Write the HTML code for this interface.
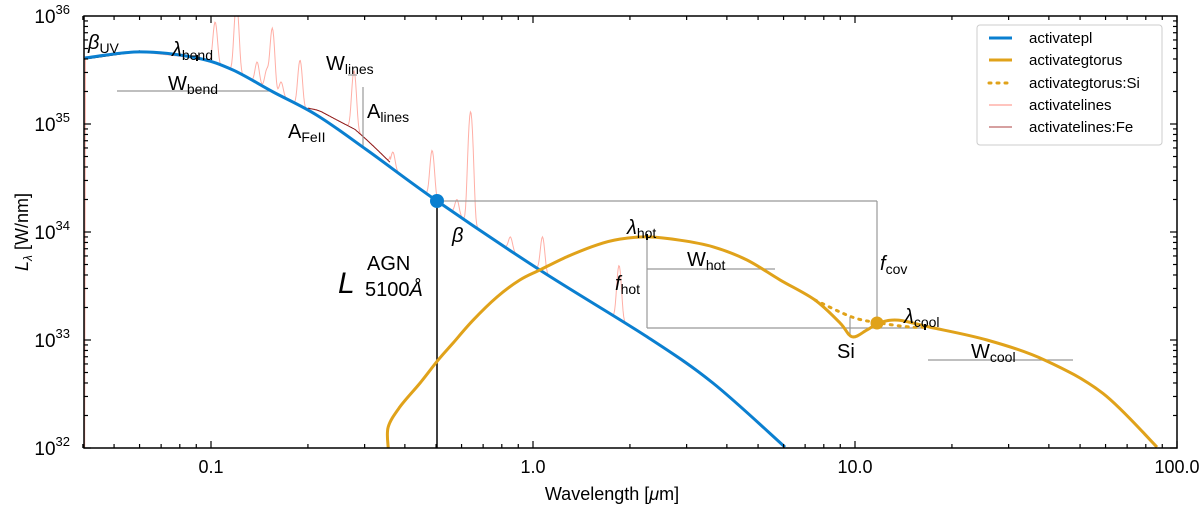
<!DOCTYPE html>
<html><head><meta charset="utf-8"><style>
body{margin:0;background:#fff;}
svg{display:block;font-family:"Liberation Sans",sans-serif;}
</style></head><body>
<svg id="chart" width="1200" height="508" viewBox="0 0 1200 508"></svg>
<script>
const blueLam=[0.0406,0.0602,0.0905,0.117,0.156,0.213,0.305,0.503,1.05,2.26,3.62,6.06];
const blueL=[4.08e35,4.65e35,4.08e35,3.16e35,1.98e35,1.21e35,5.74e34,1.94e34,4.45e33,1.07e33,4.0e32,1.02e32];
const torLam=[0.355,0.355,0.386,0.446,0.507,0.565,0.652,0.773,0.911,1.05,1.275,1.58,1.86,2.26,2.86,3.62,4.62,5.85,7.5,8.98,9.8,10.9,11.9,13.6,17.0,25.7,38.9,58.9,86.7];
const torL=[1.0e32,1.56e32,2.4e32,4.0e32,6.5e32,9.4e32,1.53e33,2.5e33,3.6e33,4.45e33,5.9e33,7.6e33,8.6e33,9.0e33,8.4e33,7.3e33,5.5e33,3.6e33,2.35e33,1.44e33,1.07e33,1.24e33,1.44e33,1.53e33,1.32e33,1.0e33,6.5e32,3.2e32,1.02e32];
const siLam=[7.5,9.8,11.9,14.8,17.0];
const siL=[2.35e33,1.63e33,1.44e33,1.32e33,1.32e33];
const lineLam=[0.103,0.120,0.139,0.149,0.155,0.165,0.189,0.278,0.367,0.486,0.58,0.64,0.85,1.07,1.85];
const linePeak=[8.8e35,1.3e36,3.75e35,3.16e35,7.7e35,2.45e35,3.9e35,2.4e35,5.5e34,5.7e34,2.0e34,1.3e35,9e33,9e33,4.9e33];
const feLam=[0.2,0.22,0.24,0.26,0.28,0.30,0.32,0.34,0.36];
const feExcess=[1.05,1.15,1.2,1.25,1.3,1.25,1.2,1.15,1.1];
const xTicks=[0.1,1,10,100];
const xTickLabels=["0.1","1.0","10.0","100.0"];
const yTicks=[32,33,34,35,36];

const X0=84,X1=1177,Y0=16,Y1=448;
const xs=l=>533+322*Math.log10(l);
const ys=L=>16+108*(36-Math.log10(L));
const NS="http://www.w3.org/2000/svg";
const svg=document.getElementById('chart');
function el(t,a,p){const e=document.createElementNS(NS,t);for(const k in a)e.setAttribute(k,a[k]);(p||svg).appendChild(e);return e;}
const defs=el('defs',{});const cp=el('clipPath',{id:'clip'},defs);el('rect',{x:X0,y:Y0,width:X1-X0,height:Y1-Y0},cp);
const plot=el('g',{'clip-path':'url(#clip)'});



function interpLog(lam,arrL,arrV){const t=Math.log10(lam);
 for(let i=0;i<arrL.length-1;i++){const a=Math.log10(arrL[i]),b=Math.log10(arrL[i+1]);
  if(t>=a&&t<=b&&b>a){const f=(t-a)/(b-a);return Math.pow(10,Math.log10(arrV[i])*(1-f)+Math.log10(arrV[i+1])*f);}}
 return arrV[arrV.length-1];}
function smooth(la,Ls){const p=la.map((l,i)=>[xs(l),ys(Ls[i])]);let d='M'+p[0][0].toFixed(1)+','+p[0][1].toFixed(1);
 for(let i=0;i<p.length-1;i++){const p0=p[i-1]||p[i],p1=p[i],p2=p[i+1],p3=p[i+2]||p2;
  const c1=[p1[0]+(p2[0]-p0[0])/6,p1[1]+(p2[1]-p0[1])/6],c2=[p2[0]-(p3[0]-p1[0])/6,p2[1]-(p3[1]-p1[1])/6];
  d+=' C'+c1.map(v=>v.toFixed(1)).join(',')+' '+c2.map(v=>v.toFixed(1)).join(',')+' '+p2[0].toFixed(1)+','+p2[1].toFixed(1);}
 return d;}

let lp=[],fp=[];
for(let x=X0;x<=700;x+=0.7){const l=Math.pow(10,(x-533)/322);const base=interpLog(l,blueLam,blueL);
 let v=base;
 for(let i=0;i<lineLam.length;i++){const d=(Math.log10(l)-Math.log10(lineLam[i]))/0.006;v+=(linePeak[i]-base)*Math.exp(-0.5*d*d);}
 let fe=1; if(l>=feLam[0]&&l<=feLam[feLam.length-1]) fe=interpLog(l,feLam,feExcess);
 lp.push(x.toFixed(1)+','+ys(v*(fe>1?fe:1)).toFixed(1));
 if(l>=feLam[0]&&l<=feLam[feLam.length-1]) fp.push(x.toFixed(1)+','+ys(base*fe).toFixed(1));}
const lines=el('polyline',{points:lp.join(' '),fill:'none',stroke:'#ff9a8f','stroke-width':1,opacity:0.8},plot);


const fe=el('polyline',{points:fp.join(' '),fill:'none',stroke:'#8b1a1a','stroke-width':1},plot);



const g='#999';
[[117,91,273,91],[348,75,357,75],[363,87,363,148],[437,201,877,201],[877,201,877,323],[647,237,647,328],[647,269,775,269],[647,328,925,328],[850,317,850,337],[928,360,1073,360]].forEach(a=>el('line',{x1:a[0],y1:a[1],x2:a[2],y2:a[3],stroke:g,'stroke-width':1.2},plot));
el('line',{x1:437,y1:201,x2:437,y2:448,stroke:'#000','stroke-width':1.5},plot);
el('line',{x1:84,y1:59,x2:140,y2:51,stroke:'#000','stroke-width':1.5},plot);

const blue=el('path',{d:smooth(blueLam,blueL),fill:'none',stroke:'#0a7fd0','stroke-width':3},plot);


const tor=el('path',{d:smooth(torLam,torL),fill:'none',stroke:'#e0a21a','stroke-width':3},plot);


const si=el('path',{d:smooth(siLam,siL),fill:'none',stroke:'#e0a21a','stroke-width':3,'stroke-dasharray':'2,6','stroke-linecap':'round'},plot);


el('line',{x1:197,y1:55,x2:197,y2:61,stroke:'#000','stroke-width':2},plot);
el('line',{x1:647,y1:234,x2:647,y2:240,stroke:'#000','stroke-width':2},plot);
el('line',{x1:925,y1:324,x2:925,y2:330,stroke:'#000','stroke-width':2},plot);
el('circle',{cx:437,cy:201,r:7,fill:'#0a7fd0'},plot);
el('circle',{cx:877,cy:323,r:6.5,fill:'#e0a21a'},plot);

el('rect',{x:X0,y:Y0,width:X1-X0,height:Y1-Y0,fill:'none',stroke:'#000','stroke-width':1.5});
for(let d=-2;d<=2;d++)for(let m=1;m<10;m++){const l=m*Math.pow(10,d);if(l<0.04||l>100)continue;const x=xs(l);const len=m==1?7:4;
 el('line',{x1:x,y1:Y1,x2:x,y2:Y1-len,stroke:'#000','stroke-width':1.2});el('line',{x1:x,y1:Y0,x2:x,y2:Y0+len,stroke:'#000','stroke-width':1.2});}
for(let d=32;d<36;d++)for(let m=1;m<10;m++){const y=ys(m*Math.pow(10,d));const len=m==1?7:4;
 el('line',{x1:X0,y1:y,x2:X0+len,y2:y,stroke:'#000','stroke-width':1.2});el('line',{x1:X1,y1:y,x2:X1-len,y2:y,stroke:'#000','stroke-width':1.2});}
xTicks.forEach((t,i)=>{const tx=el('text',{x:xs(t),y:473,'text-anchor':'middle','font-size':18});tx.textContent=xTickLabels[i];
 
 });
yTicks.forEach(t=>{const tx=el('text',{x:70,y:ys(Math.pow(10,t))+7,'text-anchor':'end','font-size':19});tx.innerHTML='10<tspan dy="-9" font-size="13">'+t+'</tspan>';
 
 });
</script>
<script>
const s2=document.getElementById('chart');
s2.insertAdjacentHTML('beforeend',`
<text x="612" y="500" text-anchor="middle" font-size="18">Wavelength [<tspan font-style="italic">μ</tspan>m]</text>
<text transform="translate(28,232) rotate(-90)" text-anchor="middle" font-size="18"><tspan font-style="italic">L</tspan><tspan font-style="italic" font-size="12" dy="4">λ</tspan><tspan dy="-4"> [W/nm]</tspan></text>
<g font-size="20">
<text x="88" y="49"><tspan font-style="italic">β</tspan><tspan font-size="14" dy="4">UV</tspan></text>
<text x="172" y="56"><tspan font-style="italic">λ</tspan><tspan font-size="14" dy="4">bend</tspan></text>
<text x="168" y="90">W<tspan font-size="14" dy="4">bend</tspan></text>
<text x="326" y="70">W<tspan font-size="14" dy="4">lines</tspan></text>
<text x="367" y="118">A<tspan font-size="14" dy="4">lines</tspan></text>
<text x="288" y="138">A<tspan font-size="14" dy="4">FeII</tspan></text>
<text x="452" y="242" font-style="italic">β</text>
<text x="338" y="293" font-size="30" font-style="italic">L</text>
<text x="367" y="270" font-size="20">AGN</text>
<text x="365" y="296" font-size="20">5100<tspan font-style="italic">Å</tspan></text>
<text x="627" y="234"><tspan font-style="italic">λ</tspan><tspan font-size="14" dy="4">hot</tspan></text>
<text x="687" y="266">W<tspan font-size="14" dy="4">hot</tspan></text>
<text x="615" y="290"><tspan font-style="italic">f</tspan><tspan font-size="14" dy="4">hot</tspan></text>
<text x="880" y="270"><tspan font-style="italic">f</tspan><tspan font-size="14" dy="4">cov</tspan></text>
<text x="837" y="358">Si</text>
<text x="904" y="323"><tspan font-style="italic">λ</tspan><tspan font-size="14" dy="4">cool</tspan></text>
<text x="971" y="358">W<tspan font-size="14" dy="4">cool</tspan></text>
</g>
<g font-size="15">
<rect x="977" y="25" width="185" height="120" rx="3" fill="#fff" stroke="#ccc"/>
<line x1="989" y1="38" x2="1012" y2="38" stroke="#0a7fd0" stroke-width="3"/><text x="1029" y="43">activatepl</text>
<line x1="989" y1="60" x2="1012" y2="60" stroke="#e0a21a" stroke-width="3"/><text x="1029" y="65">activategtorus</text>
<line x1="989" y1="83" x2="1012" y2="83" stroke="#e0a21a" stroke-width="3" stroke-dasharray="2,6" stroke-linecap="round"/><text x="1029" y="88">activategtorus:Si</text>
<line x1="989" y1="105" x2="1012" y2="105" stroke="#ffb0a8" stroke-width="1.5"/><text x="1029" y="110">activatelines</text>
<line x1="989" y1="127" x2="1012" y2="127" stroke="#c98080" stroke-width="1.5"/><text x="1029" y="132">activatelines:Fe</text>
</g>`);
</script>
</body></html>
